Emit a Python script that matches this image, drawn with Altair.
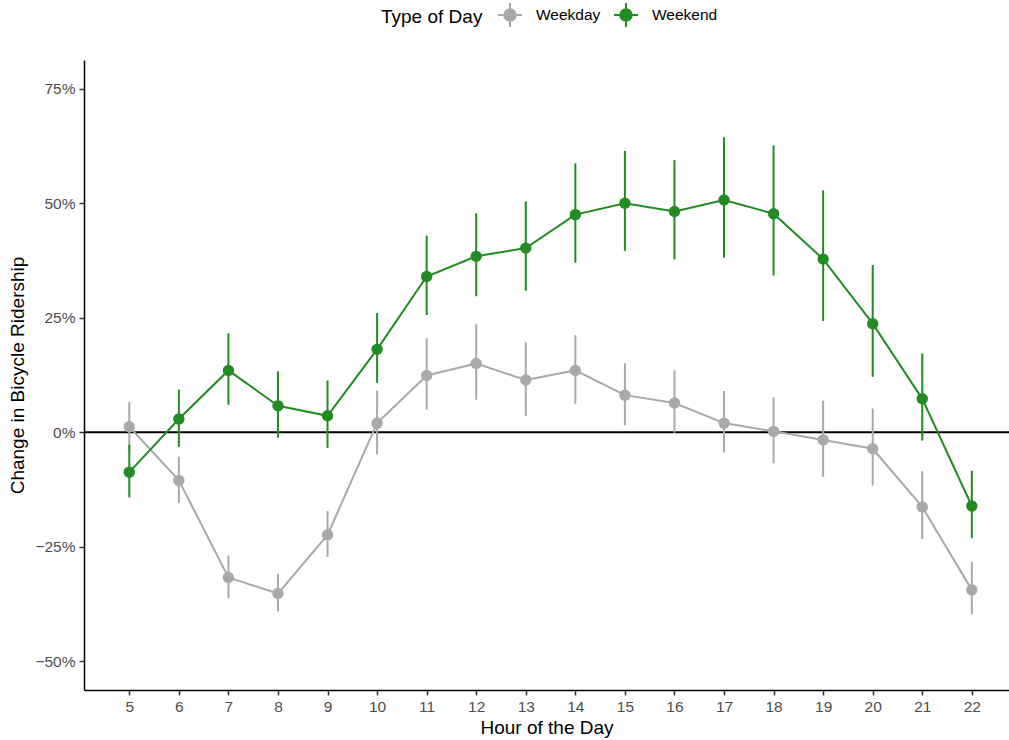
import altair as alt
import pandas as pd

# Hour of the day (x) and estimated change with its interval, per type of day
hours = list(range(5, 23))

weekday_est = [0.012, -0.105, -0.317, -0.352, -0.224, 0.020, 0.124, 0.150, 0.114,
               0.135, 0.081, 0.064, 0.020, 0.002, -0.017, -0.036, -0.163, -0.344]
weekday_lo = [-0.041, -0.154, -0.362, -0.391, -0.272, -0.048, 0.049, 0.071, 0.036,
              0.062, 0.015, -0.001, -0.044, -0.068, -0.097, -0.116, -0.233, -0.397]
weekday_hi = [0.066, -0.053, -0.269, -0.309, -0.172, 0.091, 0.205, 0.236, 0.197,
              0.212, 0.151, 0.135, 0.090, 0.076, 0.069, 0.052, -0.085, -0.283]

weekend_est = [-0.087, 0.029, 0.135, 0.058, 0.036, 0.181, 0.340, 0.384, 0.402,
               0.475, 0.500, 0.482, 0.507, 0.477, 0.378, 0.237, 0.073, -0.161]
weekend_lo = [-0.142, -0.032, 0.060, -0.012, -0.034, 0.108, 0.256, 0.297, 0.309,
              0.370, 0.396, 0.377, 0.381, 0.342, 0.243, 0.121, -0.018, -0.231]
weekend_hi = [-0.027, 0.093, 0.216, 0.133, 0.113, 0.260, 0.429, 0.478, 0.504,
              0.587, 0.614, 0.594, 0.644, 0.626, 0.528, 0.365, 0.172, -0.084]

day_types = ["Weekday", "Weekend"]
day_colors = ["darkgray", "forestgreen"]

y_ticks = [-0.5, -0.25, 0, 0.25, 0.5, 0.75]

rows = []
for name, est, lo, hi in [("Weekday", weekday_est, weekday_lo, weekday_hi),
                          ("Weekend", weekend_est, weekend_lo, weekend_hi)]:
    for h, e, l, u in zip(hours, est, lo, hi):
        rows.append({"hour": h, "type": name, "est": e, "lo": l, "hi": u})
df = pd.DataFrame(rows)

FONT = "Liberation Sans"

# legend key: a dot crossed by a horizontal and a vertical stroke
key_path = ("M-1,0L1,0M0,-1L0,1"
            "M0.48,0A0.48,0.48,0,1,1,-0.48,0A0.48,0.48,0,1,1,0.48,0Z")

legend = alt.Legend(
    title="Type of Day",
    orient="none",
    direction="horizontal",
    legendX=297,
    legendY=-58,
    titleOrient="left",
    titlePadding=14,
    titleFontSize=19,
    titleFontWeight="normal",
    titleColor="black",
    titleBaseline="middle",
    labelFontSize=15.5,
    labelColor="black",
    labelOffset=13,
    columnPadding=9,
    symbolType=key_path,
    symbolSize=576,
    symbolStrokeWidth=2,
    symbolOpacity=1,
)

type_scale = alt.Scale(domain=day_types, range=day_colors)

x_enc = alt.X("hour:Q", title="Hour of the Day",
              scale=alt.Scale(domain=[4.086, 22.75], nice=False, zero=False),
              axis=alt.Axis(values=hours, format="d"))
y_scale = alt.Scale(domain=[-0.5625, 0.8125], nice=False, zero=False)
y_axis = alt.Axis(values=y_ticks, format=".0%")

stroke_enc = alt.Stroke("type:N", scale=type_scale, legend=legend)
fill_enc = alt.Fill("type:N", scale=type_scale, legend=legend)

base = alt.Chart(df)

zero_line = alt.Chart(pd.DataFrame({"y": [0]})).mark_rule(
    color="black", strokeWidth=1.8
).encode(y=alt.Y("y:Q", scale=y_scale))

lines = base.mark_line(strokeWidth=2).encode(
    x=x_enc,
    y=alt.Y("est:Q", title="Change in Bicycle Ridership", scale=y_scale, axis=y_axis),
    stroke=stroke_enc,
    detail="type:N",
)

bars = base.mark_rule(strokeWidth=2).encode(
    x=x_enc,
    y=alt.Y("lo:Q", scale=y_scale),
    y2="hi:Q",
    stroke=stroke_enc,
)

points = base.mark_point(shape="circle", filled=True, size=130, opacity=1,
                         strokeWidth=0).encode(
    x=x_enc,
    y=alt.Y("est:Q", scale=y_scale),
    fill=fill_enc,
    stroke=stroke_enc,
)

chart = alt.layer(zero_line, lines, bars, points).properties(
    width=925,
    height=630,
    autosize=alt.AutoSizeParams(type="none"),
    padding={"left": 84, "top": 60, "right": 0, "bottom": 50},
).configure(
    font=FONT
).configure_view(
    strokeWidth=0,
    stroke="transparent",
).configure_axis(
    grid=False,
    domainColor="black",
    domainWidth=1.5,
    tickColor="#333333",
    tickWidth=1.5,
    tickSize=5,
    labelColor="#4d4d4d",
    labelFontSize=15.5,
    labelPadding=4,
    titleColor="black",
    titleFontSize=19,
    titleFontWeight="normal",
).configure_axisX(
    titlePadding=4,
).configure_axisY(
    titlePadding=7,
)

chart.save("out.html", embed_options={"renderer": "svg", "actions": False})
